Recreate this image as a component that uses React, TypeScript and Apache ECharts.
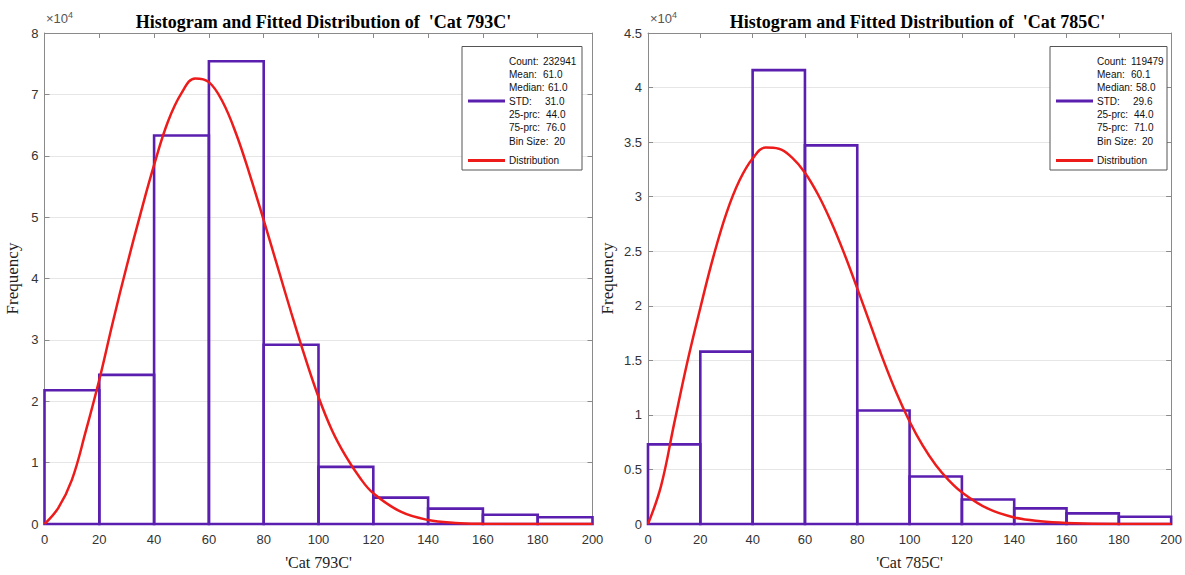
import React, { useEffect, useRef } from "react";
import * as echarts from "echarts";

// ---------- data ----------
const BIN_EDGES = [0, 20, 40, 60, 80, 100, 120, 140, 160, 180, 200];
const CAT793_COUNTS = [21800, 24300, 63300, 75400, 29200, 9300, 4300, 2500, 1500, 1100];
const CAT785_COUNTS = [7300, 15800, 41600, 34700, 10400, 4350, 2250, 1430, 970, 670];

const FIT_X = [0, 5, 10, 15, 20, 25, 30, 35, 40, 45, 50, 55, 60, 65, 70, 75, 80, 85, 90, 95, 100, 105, 110, 115, 120, 130, 140, 150, 160, 180, 200];
const CAT793_FIT = [0, 2600, 7200, 15000, 23500, 33000, 42000, 50500, 58500, 65500, 70200, 72600, 72000, 68800, 63500, 56800, 49500, 42000, 34500, 27300, 20700, 15200, 11000, 7600, 5000, 2000, 650, 180, 50, 3, 0];
const CAT785_FIT = [0, 3500, 9200, 14800, 19800, 24500, 28500, 31500, 33500, 34500, 34400, 33600, 32200, 30200, 27700, 24800, 21600, 18300, 15000, 12000, 9400, 7200, 5400, 4000, 2900, 1400, 600, 250, 100, 10, 0];

const LEFT_STATS = [
  ["Count:", "232941"],
  ["Mean:", "61.0"],
  ["Median:", "61.0"],
  ["STD:", "31.0"],
  ["25-prc:", "44.0"],
  ["75-prc:", "76.0"],
  ["Bin Size:", "20"],
];
const RIGHT_STATS = [
  ["Count:", "119479"],
  ["Mean:", "60.1"],
  ["Median:", "58.0"],
  ["STD:", "29.6"],
  ["25-prc:", "44.0"],
  ["75-prc:", "71.0"],
  ["Bin Size:", "20"],
];
const TITLES = ["Histogram and Fitted Distribution of  'Cat 793C'", "Histogram and Fitted Distribution of  'Cat 785C'"];
const X_NAMES = ["'Cat 793C'", "'Cat 785C'"];

// ---------- styles ----------
const PURPLE = "#5b1fb0";
const RED = "#ee1b1b";
const AXIS_GREY = "#8a8a8a";
const LABEL_COLOR = "#333333";
const SERIF = "'Liberation Serif', 'Times New Roman', serif";
const SANS = "'Liberation Sans', Arial, sans-serif";

const GRIDS = [
  { left: 44.5, top: 33, width: 548, height: 496.5 },
  { left: 648, top: 33, width: 529, height: 496.5 },
];

function histData(counts: number[]) {
  return counts.map((c, i) => [BIN_EDGES[i], BIN_EDGES[i + 1], c]);
}

const VAL_OFFSETS = [34, 34, 39, 36, 37, 37, 45];

function legendGraphic(boxX: number, boxW: number, stats: string[][]) {
  const lineX0 = boxX + 6;
  const lineX1 = boxX + 43;
  const textX = boxX + 47;
  const font = `10px ${SANS}`;
  const els: any[] = [
    { type: "rect", shape: { x: boxX, y: 46.5, width: boxW, height: 123.5 }, style: { fill: "#fff", stroke: "#555", lineWidth: 1 }, z: 10 },
    { type: "line", shape: { x1: lineX0, y1: 101, x2: lineX1, y2: 101 }, style: { stroke: PURPLE, lineWidth: 3 }, z: 11 },
    { type: "line", shape: { x1: lineX0, y1: 160.5, x2: lineX1, y2: 160.5 }, style: { stroke: RED, lineWidth: 3 }, z: 11 },
    { type: "text", x: textX, y: 160.5, style: { text: "Distribution", fill: "#111", font, textVerticalAlign: "middle" }, z: 11 },
  ];
  const ys = [61.5, 74.5, 87.5, 101, 114, 127.5, 141];
  stats.forEach((s, i) => {
    els.push({ type: "text", x: textX, y: ys[i], style: { text: s[0], fill: "#111", font, textVerticalAlign: "middle" }, z: 11 });
    els.push({ type: "text", x: textX + VAL_OFFSETS[i], y: ys[i], style: { text: s[1], fill: "#111", font, textVerticalAlign: "middle" }, z: 11 });
  });
  return els;
}

function scaleLabel(x: number) {
  return {
    type: "text",
    x,
    y: 9,
    style: {
      text: "{b|×10}{s|4}",
      rich: {
        b: { fontSize: 13, fontFamily: SANS, fill: "#555", color: "#555", padding: [3, 0, 0, 0] },
        s: { fontSize: 9, fontFamily: SANS, fill: "#555", color: "#555", padding: [0, 0, 5, 0] },
      },
      fill: "#555",
    },
  };
}

export default function App() {
  const ref = useRef<HTMLDivElement>(null);
  useEffect(() => {
    if (!ref.current) return;
    const chart = echarts.init(ref.current, null, { renderer: "svg" });
    const renderItem = (params: any, api: any) => {
      const x0 = api.value(0);
      const x1 = api.value(1);
      const h = api.value(2);
      const p0 = api.coord([x0, h]);
      const p1 = api.coord([x1, 0]);
      return {
        type: "rect",
        shape: { x: p0[0], y: p0[1], width: p1[0] - p0[0], height: p1[1] - p0[1] },
        style: { fill: "none", stroke: PURPLE, lineWidth: 2.6 },
      };
    };
    const maxes = [80000, 45000];
    const intervals = [10000, 5000];
    const xAxes: any[] = [];
    const yAxes: any[] = [];
    [0, 1].forEach((g) => {
      xAxes.push({
        gridIndex: g, type: "value", min: 0, max: 200, interval: 20, position: "bottom",
        axisLine: { show: true, onZero: false, lineStyle: { color: AXIS_GREY, width: 1 } },
        axisTick: { show: false },
        axisLabel: { color: LABEL_COLOR, fontFamily: SANS, fontSize: 13, margin: 9 },
        splitLine: { show: false },
        name: X_NAMES[g], nameLocation: "middle", nameGap: 30,
        nameTextStyle: { fontFamily: SERIF, fontSize: 16, color: "#222" },
      });
      xAxes.push({
        gridIndex: g, type: "value", min: 0, max: 200, interval: 20, position: "top",
        axisLine: { show: true, onZero: false, lineStyle: { color: AXIS_GREY, width: 1 } },
        axisTick: { show: true, inside: true, length: 5, lineStyle: { color: AXIS_GREY } },
        axisLabel: { show: false }, splitLine: { show: false },
      });
      yAxes.push({
        gridIndex: g, type: "value", min: 0, max: maxes[g], interval: intervals[g], position: "left",
        axisLine: { show: true, onZero: false, lineStyle: { color: AXIS_GREY, width: 1 } },
        axisTick: { show: true, inside: true, length: 5, lineStyle: { color: AXIS_GREY } },
        axisLabel: { color: LABEL_COLOR, fontFamily: SANS, fontSize: 13, margin: 6, formatter: (v: number) => String(Math.round((v / 10000) * 10) / 10) },
        splitLine: { show: true, lineStyle: { color: "#e6e6e6", width: 1 } },
        name: "Frequency", nameLocation: "middle", nameGap: g === 0 ? 24 : 32, nameRotate: 90,
        nameTextStyle: { fontFamily: SERIF, fontSize: 17, color: "#222" },
      });
      yAxes.push({
        gridIndex: g, type: "value", min: 0, max: maxes[g], interval: intervals[g], position: "right",
        axisLine: { show: true, onZero: false, lineStyle: { color: AXIS_GREY, width: 1 } },
        axisTick: { show: true, inside: true, length: 5, lineStyle: { color: AXIS_GREY } },
        axisLabel: { show: false }, splitLine: { show: false },
      });
    });

    const option: any = {
      animation: false,
      backgroundColor: "#fff",
      title: TITLES.map((t, i) => ({
        text: t,
        left: GRIDS[i].left + GRIDS[i].width / 2,
        textAlign: "center",
        top: 8,
        textStyle: { fontFamily: SERIF, fontWeight: "bold", fontSize: 18, color: "#000" },
      })),
      grid: GRIDS.map((g) => ({ ...g, containLabel: false })),
      xAxis: xAxes,
      yAxis: yAxes,
      series: [
        { type: "custom", name: "Cat 793C histogram", xAxisIndex: 0, yAxisIndex: 0, renderItem, encode: { x: [0, 1], y: 2 }, data: histData(CAT793_COUNTS), z: 2 },
        { type: "line", name: "Cat 793C distribution", xAxisIndex: 0, yAxisIndex: 0, smooth: 0.4, showSymbol: false, lineStyle: { color: RED, width: 2.5 }, itemStyle: { color: RED }, data: FIT_X.map((x, i) => [x, CAT793_FIT[i]]), z: 3 },
        { type: "custom", name: "Cat 785C histogram", xAxisIndex: 2, yAxisIndex: 2, renderItem, encode: { x: [0, 1], y: 2 }, data: histData(CAT785_COUNTS), z: 2 },
        { type: "line", name: "Cat 785C distribution", xAxisIndex: 2, yAxisIndex: 2, smooth: 0.4, showSymbol: false, lineStyle: { color: RED, width: 2.5 }, itemStyle: { color: RED }, data: FIT_X.map((x, i) => [x, CAT785_FIT[i]]), z: 3 },
      ],
      graphic: [
        scaleLabel(46),
        scaleLabel(650),
        ...legendGraphic(462, 120, LEFT_STATS),
        ...legendGraphic(1050, 117, RIGHT_STATS),
      ],
    };
    chart.setOption(option);
    return () => chart.dispose();
  }, []);
  return <div ref={ref} style={{ position: "absolute", left: 0, top: 0, width: 1185, height: 575 }} />;
}
